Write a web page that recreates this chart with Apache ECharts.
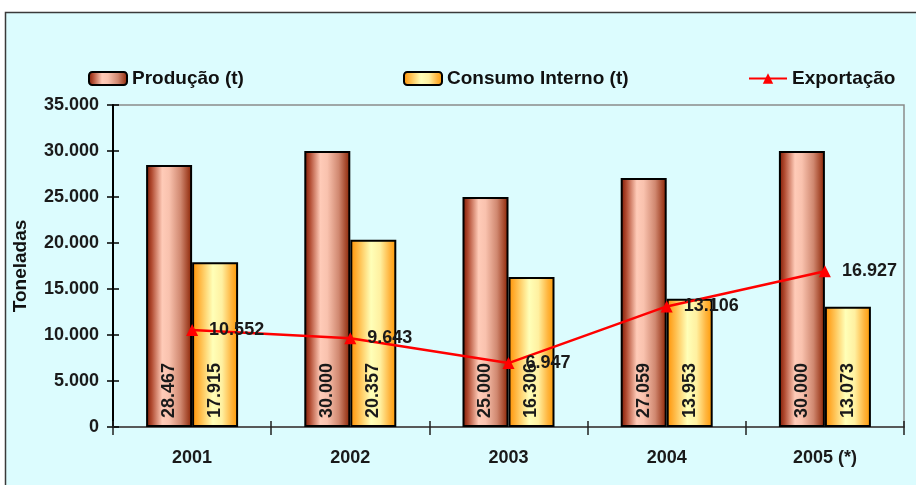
<!DOCTYPE html>
<html>
<head>
<meta charset="utf-8">
<script src="https://cdn.jsdelivr.net/npm/echarts@6/dist/echarts.min.js"></script>
<style>
  html, body { margin: 0; padding: 0; background: #ffffff; }
  #chart { width: 916px; height: 485px; }
</style>
</head>
<body>
<div id="chart"></div>
<script>
// Production, domestic consumption and exports (tonnes), 2001-2005
const years = ['2001', '2002', '2003', '2004', '2005 (*)'];
const producao = [28467, 30000, 25000, 27059, 30000];
const consumoInterno = [17915, 20357, 16306, 13953, 13073];
const exportacao = [10552, 9643, 6947, 13106, 16927];
const yTicks = { min: 0, max: 35000, interval: 5000 };

const FONT = '"Liberation Sans", Arial, sans-serif';
const BG = '#dcfcfe';

// thousands separated with a dot: 28467 -> "28.467"
function fmt(v) {
  return Math.round(v).toString().replace(/\B(?=(\d{3})+(?!\d))/g, '.');
}

const prodFill = new echarts.graphic.LinearGradient(0, 0, 1, 0, [
  { offset: 0, color: '#7a1600' },
  { offset: 0.12, color: '#b04a30' },
  { offset: 0.35, color: '#ffcbb8' },
  { offset: 0.5, color: '#f9c2ae' },
  { offset: 0.75, color: '#d08870' },
  { offset: 1, color: '#8a2000' }
]);
const consFill = new echarts.graphic.LinearGradient(0, 0, 1, 0, [
  { offset: 0, color: '#ff9000' },
  { offset: 0.2, color: '#ffc050' },
  { offset: 0.45, color: '#ffffb8' },
  { offset: 0.65, color: '#fff0a0' },
  { offset: 0.85, color: '#ffb640' },
  { offset: 1, color: '#ff9800' }
]);

const legendText = { fontFamily: FONT, fontSize: 19, fontWeight: 'bold', color: '#111' };
function legendAt(name, left) {
  return {
    data: [name], left: left, top: 69, itemWidth: 38, itemHeight: 13,
    itemGap: 0, textStyle: legendText, padding: 0, selectedMode: false
  };
}

const valueLabel = {
  show: true, position: 'insideBottom', rotate: 90, distance: 9,
  align: 'left', verticalAlign: 'middle',
  fontFamily: FONT, fontSize: 18, fontWeight: 'bold', color: '#1a1a1a',
  formatter: p => fmt(p.value)
};

const chart = echarts.init(document.getElementById('chart'), null, { renderer: 'canvas' });
chart.setOption({
  animation: false,
  backgroundColor: '#ffffff',
  graphic: [{
    type: 'rect', z: -10, silent: true,
    shape: { x: 5.5, y: 12.5, width: 1000, height: 1000 },
    style: { fill: BG, stroke: '#3a3a3a', lineWidth: 1.5 }
  }],
  legend: [
    legendAt('Produção (t)', 88),
    legendAt('Consumo Interno (t)', 403),
    legendAt('Exportação', 748)
  ],
  grid: {
    left: 113, right: 12, top: 105, bottom: 58,
    containLabel: false, outerBoundsMode: 'none',
    show: true, borderColor: '#8a8a8a', borderWidth: 1.5, backgroundColor: 'transparent'
  },
  xAxis: [
    {
      type: 'category', data: years,
      axisLine: { lineStyle: { color: '#404040', width: 1.5 } },
      axisTick: { show: true, length: 8, lineStyle: { color: '#202020', width: 1.5 } },
      axisLabel: { fontFamily: FONT, fontSize: 18, fontWeight: 'bold', color: '#1a1a1a', margin: 22 }
    },
    {
      // inner half of the crossing ticks
      type: 'category', data: years, position: 'bottom',
      axisLine: { show: false },
      axisTick: { show: true, inside: true, length: 6, lineStyle: { color: '#202020', width: 1.5 } },
      axisLabel: { show: false }
    }
  ],
  yAxis: [
    {
      type: 'value', min: yTicks.min, max: yTicks.max, interval: yTicks.interval,
      name: 'Toneladas', nameLocation: 'middle', nameGap: 83,
      nameTextStyle: { fontFamily: FONT, fontSize: 19, fontWeight: 'bold', color: '#111' },
      axisLine: { show: true, lineStyle: { color: '#000', width: 2 } },
      axisTick: { show: true, length: 6, lineStyle: { color: '#000', width: 1.5 } },
      splitLine: { show: false },
      axisLabel: {
        fontFamily: FONT, fontSize: 18, fontWeight: 'bold', color: '#1a1a1a', margin: 14,
        formatter: fmt
      }
    },
    {
      // inner half of the crossing ticks
      type: 'value', min: yTicks.min, max: yTicks.max, interval: yTicks.interval,
      position: 'left',
      axisLine: { show: false },
      axisTick: { show: true, inside: true, length: 6, lineStyle: { color: '#000', width: 1.5 } },
      splitLine: { show: false },
      axisLabel: { show: false }
    }
  ],
  series: [
    {
      name: 'Produção (t)', type: 'bar', data: producao,
      barWidth: 46, barGap: '0%',
      itemStyle: { color: prodFill, borderColor: '#000', borderWidth: 2 },
      label: valueLabel
    },
    {
      name: 'Consumo Interno (t)', type: 'bar', data: consumoInterno,
      barWidth: 46, barGap: '0%',
      itemStyle: { color: consFill, borderColor: '#000', borderWidth: 2 },
      label: valueLabel
    },
    {
      name: 'Exportação', type: 'line', data: exportacao, z: 5,
      symbol: 'triangle', symbolSize: 12,
      lineStyle: { color: '#ff0000', width: 2.5 },
      itemStyle: { color: '#ff0000' },
      label: {
        show: true, position: 'right', distance: 11,
        fontFamily: FONT, fontSize: 18, fontWeight: 'bold', color: '#1a1a1a',
        formatter: p => fmt(p.value)
      }
    }
  ]
});
</script>
</body>
</html>
